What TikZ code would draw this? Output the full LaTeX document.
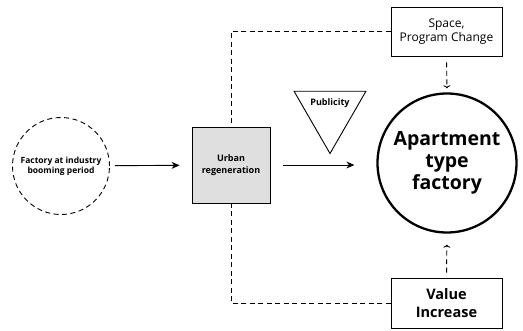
\documentclass[tikz,border=0pt]{standalone}
\usepackage{fontspec}
\setmainfont{Open Sans}
\usetikzlibrary{arrows.meta,shapes.geometric}

\tikzset{
	box/.style={draw, rectangle, align=center, inner sep=0pt},
	dashline/.style={dashed, dash pattern=on 5pt off 3.5pt},
	flow/.style={-{Stealth[length=8pt,width=7pt]}},
	hint/.style={dashline, -{To[length=3pt,width=7pt]}}
}

\begin{document}
\begin{tikzpicture}[x=1pt, y=-1pt, font=\bfseries, line width=0.9pt]
	\useasboundingbox (0,0) rectangle (523,330);
	\node[circle, draw, dashline, minimum size=97pt, align=center, inner sep=0pt, font=\bfseries\fontsize{8.5}{10}\selectfont] (oldfactory) at (61,166) {Factory at industry\\booming period};
	\node[box, fill=gray!25, minimum width=78pt, minimum height=76pt, font=\bfseries\fontsize{9}{12}\selectfont] (urban) at (231,165) {Urban\\regeneration};
	\node[regular polygon, regular polygon sides=3, shape border rotate=180, draw, minimum size=83pt, inner sep=0pt, label={[yshift=9pt, font=\bfseries\fontsize{9}{11}\selectfont]center:Publicity}] (publicity) at (330,112) {};
	\node[circle, draw, line width=2.3pt, minimum size=139pt, align=center, inner sep=0pt, font=\bfseries\fontsize{19.5}{22}\selectfont] (aptfactory) at (447,163) {Apartment\\type\\factory};
	\node[box, minimum width=111pt, minimum height=49pt, font=\fontsize{12}{14}\selectfont] (space) at (446.5,31.5) {Space,\\Program Change};
	\node[box, minimum width=111pt, minimum height=50pt, font=\fontsize{14.5}{18}\selectfont\bfseries] (value) at (446.5,303) {Value\\Increase};
	\draw[flow, shorten <=5pt, shorten >=12pt] (oldfactory) -- (urban);
	\draw[flow, shorten <=13pt, shorten >=22pt] (urban.east) -- (urban.east -| aptfactory.west);
	\draw[dashline] (space.west) -| (urban.north);
	\draw[dashline] (value.west) -| (urban.south);
	\draw[hint, shorten <=6pt, shorten >=4pt] (space.south) -- (aptfactory.north);
	\draw[hint, shorten <=5pt, shorten >=11pt] (value.north) -- (aptfactory.south);
\end{tikzpicture}
\end{document}
